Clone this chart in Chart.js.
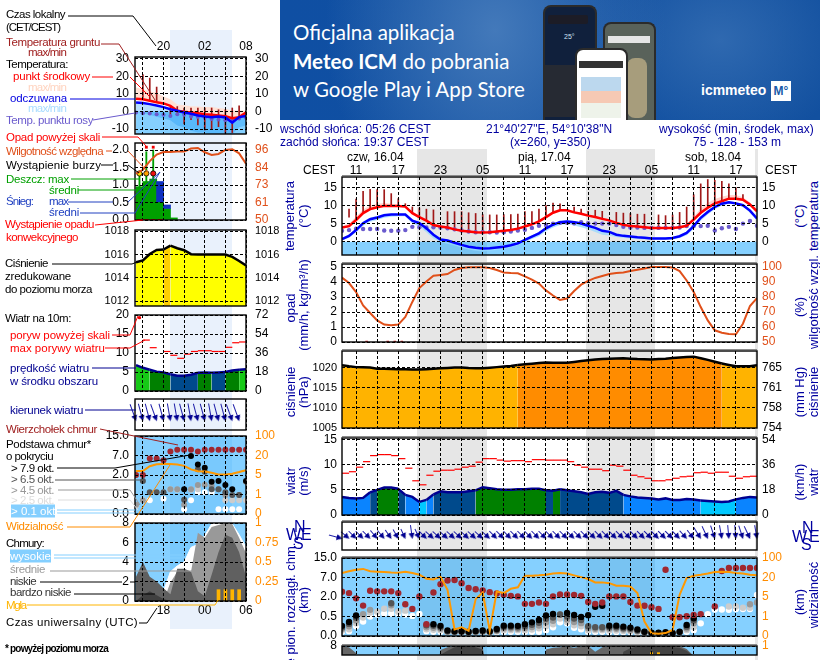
<!DOCTYPE html>
<html lang="pl"><head><meta charset="utf-8"><title>Meteogram ICM</title>
<script src="https://cdn.jsdelivr.net/npm/chart.js@4"></script>
<style>
html,body{margin:0;padding:0;background:#fff;width:820px;height:660px;overflow:hidden;font-family:"Liberation Sans",Arial,sans-serif}
#page{position:relative;width:820px;height:660px;overflow:hidden}
canvas,.abs{position:absolute}
.t{position:absolute;white-space:nowrap;transform:translateY(-50%);font-size:11.5px;line-height:13px}
.h{font-size:12px}
.r{position:absolute;white-space:nowrap;transform:translate(-50%,-50%) rotate(-90deg);font-size:13px;line-height:15px;color:#0000a0}
#banner{left:280px;top:0;width:540px;height:120px;overflow:hidden;background:radial-gradient(ellipse 170px 200px at 215px 30px,#4379ba 0%,rgba(67,121,186,0) 100%),radial-gradient(ellipse 130px 110px at 440px 40px,#2f69b0 0%,rgba(47,105,176,0) 100%),linear-gradient(90deg,#0f4fa3,#12509f)}
#banner .b{position:absolute;left:13px;color:#fff;font-family:Lato,"Open Sans",sans-serif;font-size:20.5px;white-space:nowrap;transform:translateY(-50%)}
.ph{position:absolute;border:2px solid #2b2b2b;border-radius:8px 8px 0 0;border-bottom:0;background:#12233f;box-sizing:border-box;overflow:hidden}
svg{position:absolute;left:0;top:0}
</style></head><body><div id="page">
<div class="abs" style="left:170px;top:30px;width:62px;height:599px;background:#e9f1fc"></div>
<div class="abs" style="left:417px;top:149px;width:70px;height:511px;background:#e6e6e6"></div>
<div class="abs" style="left:586px;top:149px;width:69px;height:511px;background:#e6e6e6"></div>
<div class="abs" style="left:755px;top:149px;width:3px;height:511px;background:#e6e6e6"></div>
<div id="banner" class="abs">
 <div class="b" style="top:32px">Oficjalna aplikacja</div>
 <div class="b" style="top:61px"><b>Meteo ICM</b> do pobrania</div>
 <div class="b" style="top:89px">w Google Play i App Store</div>
 <div class="ph" style="left:263px;top:5px;width:54px;height:115px;background:#10203c;color:#cfe0f5;font-size:7px;padding:26px 0 0 19px">25°
   <div style="position:absolute;left:3px;top:8px;width:40px;height:9px;background:#1c1c26;border-radius:2px"></div>
   <div style="position:absolute;left:0;top:58px;width:50px;height:52px;background:#262a33"></div></div>
 <div class="ph" style="left:323px;top:22px;width:53px;height:98px;background:#59625a"><div style="position:absolute;left:3px;top:12px;width:42px;height:7px;background:#e5e5e5"></div>
   <div style="position:absolute;left:22px;top:34px;width:20px;height:60px;background:#a79d7c;border-radius:8px"></div></div>
 <div class="ph" style="left:295px;top:48px;width:53px;height:72px;background:#fff"><div style="position:absolute;left:2px;top:11px;width:44px;height:7px;background:#333"></div>
   <div style="position:absolute;left:4px;top:27px;width:40px;height:14px;background:#bcd8ee"></div>
   <div style="position:absolute;left:4px;top:41px;width:40px;height:12px;background:#f6c9b4"></div>
   <div style="position:absolute;left:4px;top:53px;width:40px;height:15px;background:#eef3ea"></div></div>
 <div style="position:absolute;left:421px;top:90px;color:#fff;font:bold 14px 'Liberation Sans';transform:translateY(-50%)">icmmeteo</div>
 <div style="position:absolute;left:491px;top:81px;width:20px;height:20px;background:#fff;color:#1a5aa8;font:bold 12px/20px 'Liberation Sans';text-align:center">M°</div>
</div>
<svg id="lead" width="280" height="660"></svg>
<div id="texts"></div>
</div>
<script>
// ---------- main meteogram, hourly from 09:00 on 16.04 (h0) ----------
const mainTickHours=[2,5,8,11,14,17,20,23,26,29,32,35,38,41,44,47,50,53,56];
const mainTickLabels=['11','','17','','23','','05','','11','','17','','23','','05','','11','','17'];
const tempRed=[3.9,4.3,6,7.9,9,9.5,9.9,9.9,9.9,9.7,7.9,6.8,5.8,4.6,4.2,3.9,3.4,3,2.8,2.6,2.5,2.6,2.8,3,3.2,3.6,4.2,4.8,5.6,6.8,8,8.7,8.7,8.1,7.7,7.2,6.8,6.3,5.9,5.2,4.7,4.3,4.2,4,3.8,3.8,3.8,3.8,4,4.4,6.1,8,9.4,10.6,11.2,11.9,11.9,11.6,10.3,8.4];
const tempMax=[4.2,5,6.9,8.9,10,10.5,10.7,10.5,10.3,10,8.4,7.2,6.1,4.9,4.4,4.1,3.6,3.2,3,2.8,2.7,2.8,3,3.2,3.4,3.8,4.4,5,5.9,7.2,8.5,9,9,8.4,8,7.5,7.1,6.6,6.2,5.4,4.9,4.5,4.4,4.2,4,4,4,4,4.2,4.8,6.9,9.2,10.7,11.8,12.4,12.9,12.9,12.3,10.9,8.8];
const tempMin=[3.6,4,5.6,7.4,8.6,9.2,9.6,9.7,9.7,9.5,7.6,6.5,5.4,4.3,3.9,3.7,3.2,2.8,2.6,2.4,2.3,2.4,2.6,2.8,3,3.4,4,4.6,5.3,6.4,7.7,8.4,8.4,7.9,7.4,6.9,6.5,6,5.6,5,4.5,4.1,4,3.8,3.6,3.6,3.6,3.6,3.8,4.1,5.7,7.6,9,10.2,10.9,11.6,11.6,11.2,9.9,8];
const feelsBlue=[.7,1.6,3.2,5.1,6.2,6.7,7.3,7.5,7.5,7.5,5.8,5.1,3.7,1.9,.6,.3,-.3,-.9,-1.4,-1.7,-1.9,-1.8,-1.6,-1.4,-1,-.5,.5,1.4,2.3,3.7,4.7,5.4,5.6,5.4,5,4.4,3.8,3,2.7,1.9,1.6,1.4,1.2,1.1,.9,.9,.9,1,1.5,2.4,4.3,6.6,8.2,9.6,10.5,10.9,10.6,10.1,8.6,6.4];
const feelsMax=[1,1.9,3.6,5.6,6.7,7.1,7.7,7.8,7.8,7.8,6.1,5.5,4.1,2.3,1,.6,0,-.6,-1.1,-1.4,-1.6,-1.5,-1.3,-1.1,-.7,-.2,.8,1.8,2.7,4.1,5.1,5.8,6,5.8,5.4,4.8,4.2,3.4,3.1,2.3,2,1.7,1.5,1.4,1.2,1.2,1.2,1.3,1.8,2.8,4.8,7.1,8.7,10,10.9,11.2,10.9,10.4,9,6.8];
const feelsMin=[.3,1.1,2.6,4.4,5.5,6,6.6,6.9,7,7,5,4.2,2.6,.9,-.2,-.6,-1.1,-1.7,-2.2,-2.5,-2.7,-2.6,-2.3,-2.1,-1.6,-1.1,-.2,.7,1.5,2.9,3.9,4.6,4.9,4.5,4,3.4,2.7,1.9,1.7,1.3,1.1,.9,.7,.6,.5,.5,.5,.6,1,1.8,3.5,5.8,7.5,9,10,10.5,10.2,9.7,8,5.7];
const dewPoint=[3,3.2,3.6,3.5,3.5,3.5,3.1,3,3,3.2,4.1,4,3.9,4,3.9,3.7,3.4,3.1,2.8,2.6,2.6,2.6,2.5,2.6,2.8,3.1,3.3,3.8,4.4,4.6,5,5.2,5.2,5.1,5.4,5.1,5,5,5,4.6,4.1,3.9,3.9,3.8,3.8,3.8,3.8,3.8,3.9,4.3,4.3,4.3,4.4,3.1,3.7,4.1,3.5,5,5.7,4.4];
const groundMax=[null,9,11.8,13.9,14.5,14.4,14.4,13.3,11.9,10.5,9.6,9.3,9,8.8,null,8.3,8.3,8.3,8,7.8,7.5,7.4,7.4,7.5,7.5,7.6,8.3,8.3,9,10,10.7,10.5,null,9.6,9,8.4,8.7,8.4,null,8.1,7.9,7.8,7.6,7.6,null,7.4,7.2,7.4,8.1,9.6,13,16,17.2,17,16.7,16,14.9,13,null,null];
const groundMin=[null,6.8,6,8,9,9.6,10,10,9.9,9.7,7.9,6.8,5.8,4.6,null,3.9,3.4,3,2.8,2.6,2.5,2.6,2.8,3,3.2,3.6,4.2,4.8,5.6,6.8,8,8.7,null,8.1,7.7,7.2,6.8,6.3,null,5.2,4.7,4.3,4.2,4,null,3.8,3.8,3.8,4,4.4,6.1,8,9.4,10.6,11.2,11.9,11.9,11.6,null,null];
const humidity=[92.9,89.3,83.3,74.4,69.3,64.4,61.6,61.1,61.6,66.7,76.7,86,90.4,94.2,94.7,95.3,98,99.3,99.8,99.8,99.8,99.3,98,96.4,96,95.8,93.8,91.6,88.9,84.4,81,78,79,84,88.2,90.7,92.7,94,95.3,96,96.4,97.3,98.2,99,100,100,100,99.6,97.3,91,83.3,73.3,64.4,57.8,56.2,55.3,55.1,62.2,74,79.3];
const convMarkHours=[3,6,7,8];
const mainPressure=[1020.6,1020.3,1020.1,1020.05,1020,1019.7,1019.7,1019.65,1019.6,1019.55,1019.5,1019.5,1019.6,1019.7,1019.8,1019.9,1020,1020,1019.9,1019.85,1019.8,1019.95,1020.1,1020.25,1020.4,1020.6,1020.8,1020.95,1021.1,1021.25,1021.2,1021.2,1021.2,1021.4,1021.6,1021.8,1022,1022.1,1022.2,1022.25,1022.3,1022.2,1022.1,1022.05,1022,1022.1,1022.2,1022.35,1022.5,1022.6,1022.7,1022.3,1021.9,1021.45,1021,1020.65,1020.3,1020.3,1020.3,1020.6];
const mainWind=[3.6,3.4,3.3,3.4,4.5,5,5.45,5.45,5.2,4,3.6,2.6,3,4.1,4.7,4.5,4.5,4.5,4.7,4.9,5.5,5.3,5.1,5,5,5.1,5.1,5.2,5.2,4.9,4.8,5.1,4.9,4.7,4.5,4.2,4.5,4.6,4.4,4.8,4,3.7,3.5,3.4,3.3,3.1,3.3,3,3,3.2,3.1,2.9,2.8,2.7,2.6,2.7,3.1,3.4,3.6,3.5];
const mainWindBand='BBBBNGGGNBBCBNNNNNNGGGGGGGGGGNGNNNNNNNNNBBBBBBBBBBBCCCCCBBBB';
const mainGust=[8.3,8.6,9.5,10.6,11.8,12,12,11.8,11.2,9.3,6.8,6,7.9,8.7,8.9,8.9,9.1,9.5,9.7,10.5,11.2,11.2,10.9,10.7,10.8,10.8,10.6,11,11,10.9,10.9,10.9,10.6,9.9,9.5,9.1,9.1,8.8,9.9,9.7,8.9,7.9,7.6,7.3,6.8,6.8,7,7.3,7.6,7.7,8.4,8.5,8.3,8.5,8.5,7.7,7.3,7.6,7.7];
const mainDir=[285,310,315,315,315,320,320,325,330,335,352,335,315,312,312,312,312,312,312,312,312,312,315,315,315,315,315,315,315,315,315,315,315,315,315,315,315,315,315,315,315,315,315,315,315,315,315,315,315,318,322,328,335,342,350,355,355,342,335,350];
const cloudTop=[2.27,2.2,1.93,1.56,2.32,2.29,2.29,2.29,2.2,1.63,1.39,2.03,.6,2.23,2.66,2.85,2.87,2.71,2.46,2.4,2.34,2.25,2.18,2.11,2.06,2.03,1.65,1.65,1.72,1.65,2.03,2.13,2.13,2.1,2.06,1.74,1.65,1.72,2.03,2.03,2.03,1.74,1.56,1.55,1.48,1.39,3.4,.96,.96,1.01,1.08,1.12,null,1.51,3.33,3.49,3.49,3.49,3.49,3.49];
const baseBlack=[.52,.72,1.05,null,null,null,null,null,null,null,null,null,null,.6,.52,.28,.24,.24,.22,.26,.28,.24,.36,.53,.53,.52,.6,.7,.82,1.05,1.13,null,1.18,1.08,.98,1.07,1.5,1.55,.53,.53,.48,.43,.33,.22,.17,.17,.19,.15,.22,.57,.91,null,null,null,null,null,null,null,null,null];
const baseDark=[.44,.62,.93,null,null,null,null,1.68,null,null,null,null,.55,.52,.45,.24,.22,.22,.2,.23,.25,.22,.31,.46,.46,.45,.5,.58,.68,.88,.95,1.1,1,.9,.82,.5,.45,.45,.45,.45,.4,.37,.28,.2,.16,.16,.17,.15,.2,.48,.8,null,null,null,null,null,null,null,null,null];
const baseGrey=[.36,.5,.8,1.12,1.34,null,null,1.58,null,null,null,null,.45,.42,.37,.22,.21,.21,.19,.21,.22,.21,.27,.38,.38,.37,.4,.46,.54,.7,.78,1.1,.85,.72,.66,.4,.37,.37,.37,.37,.33,.3,.24,.18,.15,.15,.16,.14,.2,.38,.65,null,null,null,null,null,null,null,1.63,1.72];
const baseLight=[.28,.35,.65,.95,1.2,1.25,1.4,1.4,1.25,1.3,null,null,.35,.32,.3,.2,.2,.2,.18,.2,.2,.2,.23,.3,.3,.3,.3,.33,.4,.5,.6,.9,.72,.55,.5,.3,.3,.3,.28,.28,.26,.25,.2,.17,.14,.14,.16,.13,.2,.3,.45,null,null,null,null,1.51,1.51,1.45,1.45,null];
const baseWhite=[.22,.25,.5,.74,1,1.1,1.15,1.15,1.15,1.1,1.03,1.13,.25,.22,.22,.2,.2,.18,.18,.2,.22,.18,.2,.22,.22,.22,.22,.22,.22,.3,.45,.7,.65,.42,.35,.22,.22,.22,.2,.2,.2,.2,.15,.17,.14,.14,.16,.13,.2,.22,.3,.65,1.12,1.36,1.36,1.34,1.38,1.38,1.38,2.1];
const visibility=[3.23,3.32,3.4,3.44,3.32,3.3,3.28,3.26,3.25,3.3,3.23,3.14,2.94,2.9,3.04,2.37,.34,.45,.27,1.89,2.23,.27,2.28,2.2,2.42,2.5,3.09,3.09,3.11,3.14,3.2,3.23,3.2,3.11,3.02,2.92,2.75,2.75,2.71,2.58,2.58,2.54,2.2,.74,.14,.12,.15,.31,2.11,2.97,3.09,3.14,3.2,3.28,3.3,3.28,3.23,3.2,3.14,3.12];
const mainCloudLow=[7.9,7.8,6.8,0,0,0,0,0,0,0,0,0,0,0,7.3,7.8,8,8,8,8,7.9,0,0,0,0,0,0,0,0,7.4,7.7,7.8,7.9,7.7,7.9,8,7,7.8,8,8,8,8,8,8,8,8,8,8,8,7.5,6.3,0,0,0,0,0,0,0,0,0];
const mainCloudVeryLow=[0,0,0,0,0,0,0,0,0,0,0,0,0,0,6.5,7.2,7.8,7.9,7.9,7.8,7.4,0,0,0,0,0,0,0,0,0,0,0,0,0,0,0,0,0,0,0,7,7.6,7.9,7.9,7.9,7.9,7.9,7.8,7.7,7.2,6.2,0,0,0,0,0,0,0,0,0];
const mainFogHours=[44,45];
// ---------- small meteogram, hourly from 16:00 local (h0) ----------
const smallTickHours=[1,4,7,10,13,16];
const smallTopLabels=['','20','','02','','08'];
const smallBottomLabels=['','18','','00','','06'];
const sRed=[7.2,7,6.1,5.3,4.6,3.2,.4,-.2,-.6,-1,-1.5,-1.9,-2.3,-2.7,-3.8,-3.2,-.6];
const sRedMax=[13.7,12.7,11.5,10.5,8.6,7,4,3.5,3,2.8,2.5,2.5,2,1.5,.5,.5,.5];
const sBlue=[5.1,4.8,4.2,3.4,2.5,1.3,.4,-.6,-1.3,-2.3,-2.9,-3.2,-2.9,-3.4,-6.3,-3.2,-2.5];
const sBlueMin=[0,-1,-2,-3,-4,-5,-8,-9,-11,-12,-12,-13,-13,-13,-13,-9,-8];
const sDew=[-.5,-1,-1.2,-1.5,-1.8,-2.5,-1.5,-1.8,-2.8,-3.2,-3.5,-4.2,-4.5,-5,-4.7,-4,-3.5];
const sGroundMax=[null,21,19,13.9,null,2.5,2.8,2,2,2,2,2,1,1,2,3.2,null];
const sGroundMin=[null,8,6.5,5.3,null,-2,-2,-7,-4.7,-7.6,-10.5,-10,-8.6,-12.5,-12,-4.7,null];
const sRain=[.95,1.1,1.17,.52,.33,.06];
const sSnowTop=[null,null,null,1.1,.43,null];
const sRainMax=[1.34,1.95,2,null,null,null];
const sOverScale=[null,2.08,2.08];
const sStorm=[1.33,1.33,1.33];
const sConvHours=[0,1,2,3];
const sHumidity=[80.5,83,88.7,93,94.7,94.7,95,95,97,97.3,94.5,92.7,93.4,96,96.5,93.8,87];
const sPressure=[1015.34,1015.5,1016.05,1016.4,1016.43,1016.77,1016.54,1016.37,1016.03,1016,1016,1016,1016,1016,1015.8,1015.45,1015.06];
const sWind=[6.8,6.1,5.6,5.1,4.9,4.4,4,4,4.3,4.8,4.9,4.8,4.9,5,5.4,5.6,5.7];
const sWindBand='LLGGGNNNNGGNNGGLL';
const sGust=[null,13.4,11.4,null,10.4,9.4,8.6,9.7,10.4,10.6,10.6,10.4,10.4,11.5,12.7,12.9];
const sGustOver=[19.3];
const sDir=[340,345,345,340,345,350,350,345,350,345,345,350,345,345,340,340];
const sTop=[2,2,2.85,2.85,2.76,3.2,3.3,3.3,3.3,3.2,3.3,3.3,3.3,3.3,3.3,3.3,3.3];
const sBlack=[null,null,null,null,null,null,null,1.27,2.97,2.54,2.37,1.66,1.69,1.49,1.27,null,1.69];
const sDark=[null,1.69,1.12,1.12,1.12,null,null,.73,null,2.29,2.17,1.27,1.27,1.12,.98,.98,null];
const sGrey=[.47,.71,null,null,null,1.27,1.27,.47,1.27,1.49,1.5,1.45,1.27,.98,null,.98,1.66];
const sLight=[.42,null,null,null,null,1.27,1.24,null,1.24,1.27,null,null,null,.71,.71,.71,.71];
const sWhite=[null,.71,.71,null,.78,null,null,.25,.71,1.12,1.12,1.12,.25,.25,.25,.25,null];
const sVis=[2.2,2.2,2.45,2.55,2.57,2.57,2.54,2.47,2.29,2.19,2.18,2.12,2.03,2.03,2.06,2.15,2.25];
const sHigh=[0,0,0,0,1,3,3.6,4,5.5,5.8,6.7,7.9,8,8,7.9,6.8,5.5];
const sMid=[0,0,0,0,0,1.9,3,3.3,3,7,6.5,7.6,7.8,8,7.9,6.5,4.9];
const sLow=[2.5,4,2.5,2,1.3,.7,3.3,3.3,3,1,.5,2.7,5,6.8,6.5,5,2.5];
const sVeryLow=[0,.6,1,.6,.2,0,0,0,0,0,0,0,0,0,0,0,0];
const sFog=[null,null,null,null,null,null,null,null,null,null,null,null,.145,.145,.145,.145];

// ---------- tick label tables ----------
const baseTickLabels=['0.0','0.5','2.0','7.0','15.0'];
const visTickLabels=['0','1','5','20','100'];

// ---------- drawing ----------
const SKY='rgba(0,157,255,.48)';
Chart.defaults.font.family='"Liberation Sans",Arial,sans-serif';
Chart.defaults.font.size=12;
Chart.defaults.color='#000';
const framePlugin={id:'frame',
 beforeDatasetsDraw(c,a,o){if(o.sky){const r=c.chartArea;c.ctx.fillStyle=o.sky;c.ctx.fillRect(r.left,r.top,r.width,r.height);}},
 afterDraw(c,a,o){const r=c.chartArea,x=c.ctx;x.save();
  if(o.shade){x.strokeStyle='#8c8c8c';x.lineWidth=1;x.beginPath();x.moveTo(r.left,r.top-1.5);x.lineTo(r.right,r.top-1.5);x.stroke();}
  x.strokeStyle='#000';x.lineWidth=1.4;x.strokeRect(r.left,r.top,r.width,r.height);x.restore();}
};
Chart.register(framePlugin);
const pts=(a,off)=>a.map((v,i)=>({x:i+(off||0),y:v}));
const hourPts=(hours,val,off)=>hours.map(h=>({x:h+(off||0),y:val}));
const line=(a,c,w,e)=>Object.assign({type:'line',data:pts(a),borderColor:c,borderWidth:w,pointRadius:0,fill:false,tension:0},e||{});
const band=(a,c)=>line(a,'transparent',0,{fill:'+1',backgroundColor:c});
const dots=(a,c,r,off,e)=>Object.assign({type:'scatter',data:pts(a,off),backgroundColor:c,borderColor:c,pointRadius:r,borderWidth:0,pointStyle:'circle'},e||{});
const vbars=(lo,hi,c,th,off)=>({type:'bar',data:hi.map((v,i)=>({x:i+(off||0),y:(v==null||lo[i]==null)?null:[lo[i],v]})),backgroundColor:c,barThickness:th,grouped:false,borderWidth:0});
function arrowImg(L){const s=2*L+1,k=document.createElement('canvas');k.width=s;k.height=s;const x=k.getContext('2d');
 x.strokeStyle='#1c1ca8';x.lineWidth=1;x.beginPath();x.moveTo(L+.5,0);x.lineTo(L+.5,L);x.stroke();
 x.fillStyle='#000090';x.beginPath();x.moveTo(L+.5,L+1);x.lineTo(L-2.5,L-5);x.lineTo(L+3.5,L-5);x.closePath();x.fill();return k;}
function yAxis(pos,min,max,vals,labels,color,pad,width,grid,size){return{type:'linear',position:pos,min,max,
 afterBuildTicks:s=>{s.ticks=vals.map(v=>({value:v}));},
 afterFit:s=>{s.width=width;s.paddingTop=0;s.paddingBottom=0;},
 grid:{display:grid,drawTicks:false,color:'#000',lineWidth:1,z:1},border:{display:false,dash:[3,2]},
 ticks:{autoSkip:false,padding:pad,color,font:{size:size||12},callback:(v,i)=>labels[i]}};}
function xAxis(pos,min,max,vals,labels,size,pad){return{type:'linear',position:pos,min,max,offset:false,
 afterBuildTicks:s=>{s.ticks=vals.map(v=>({value:v}));},
 afterFit:s=>{s.height=size;s.paddingLeft=0;s.paddingRight=0;},
 grid:{offset:false,drawTicks:false,color:'#000',lineWidth:1,z:1},border:{display:false,dash:[3,2]},
 ticks:{autoSkip:false,maxRotation:0,padding:pad||0,display:!!labels,callback:(v,i)=>labels?labels[i]:''}};}
function panel(b,datasets,scales,o){
 const c=document.createElement('canvas');const W=b.r-b.l+b.ml+b.mr,H=b.b-b.t+b.mt+b.mb;
 c.width=W;c.height=H;c.style.cssText=`left:${b.l-b.ml}px;top:${b.t-b.mt}px;width:${W}px;height:${H}px`;
 document.getElementById('page').insertBefore(c,document.getElementById('lead'));
 const n=datasets.length;datasets.forEach((d,i)=>{d.order=n-i;});
 new Chart(c,{data:{datasets},options:{responsive:false,animation:false,devicePixelRatio:1,
  layout:{padding:{top:b.xBottom?b.mt:0,bottom:b.xBottom?0:b.mb,left:0,right:0}},
  plugins:{legend:{display:false},tooltip:{enabled:false},frame:o||{}},scales}});
}
const M={l:342,r:757,ml:50,mr:32,mt:9,mb:8};
const Mx=(lab,size,pad)=>xAxis('top',0,59,mainTickHours,lab,size,pad);
const B=(t,b,extra)=>Object.assign({},M,{t,b},extra||{});
const MY=(min,max,vals,labs,col,sz)=>yAxis('left',min,max,vals,labs,col||'#000',5,M.ml,true,sz);
const MY2=(min,max,vals,labs,col,sz)=>yAxis('right',min,max,vals,labs,col||'#000',5,M.mr,false,sz);
const BaseDots=(top,bk,dk,gr,li,wh,r)=>[dots(wh,'#fff',r),dots(li,'#ccc',r),dots(gr,'#999',r),dots(dk,'#555',r),dots(bk,'#000',r),dots(top,'#a02830',r)];

// main temperature
panel(B(177,255,{mt:18}),[
 line(tempRed.map(()=>0),'transparent',0,{fill:'start',backgroundColor:SKY}),
 band(tempMax,'#ffd6d0'),line(tempMin,'transparent',0),
 band(feelsMax,'rgba(150,215,255,.75)'),line(feelsMin,'transparent',0),
 vbars(groundMin,groundMax,'#a01818',1),
 dots(dewPoint,'#6a5acd',2.2),
 line(tempRed,'#ff0000',2.5),line(feelsBlue,'#0000ff',2.5)
],{x:Mx(mainTickLabels,18,-1),y:MY(-3.7,17.9,[0,5,10,15],['0','5','10','15']),y2:MY2(-3.7,17.9,[0,5,10,15],['0','5','10','15'])},{shade:1});
// main rain + humidity
panel(B(264,342),[
 {type:'scatter',data:hourPts(convMarkHours,0,.5),backgroundColor:'#e03030',pointStyle:'rect',pointRadius:1.8,borderWidth:0},
 line(humidity,'#e0501a',2,{yAxisID:'y2'})
],{x:Mx(null,9),y:MY(0,5.2,[0,1,2,3,4,5],['0','1','2','3','4','5']),y2:MY2(50,102,[50,60,70,80,90,100],['50','60','70','80','90','100'],'#e0501a')},{shade:1});
// main pressure
panel(B(351,428),[
 line(mainPressure,'#000',2.5,{fill:'start',backgroundColor:'#ffb000',segment:{backgroundColor:c=>(c.p0DataIndex>=25&&c.p0DataIndex<54)?'#ff8c00':'#ffb300'}})
],{x:Mx(null,9),y:MY(1005,1024.1,[1005,1010,1015,1020],['1005','1010','1015','1020'],'#000',11),y2:MY2(1005,1024.1,[1005,1010,1015,1020],['754','758','761','765'])},{shade:1});
// main wind
const windColor={B:'#0a84ff',C:'#00c8ff',N:'#004a8c',G:'#008000',L:'#16c916'};
panel(B(438,515),[
 line(mainWind,'#000090',2.5,{fill:'origin',backgroundColor:'#004a8c',segment:{backgroundColor:c=>windColor[mainWindBand[c.p0DataIndex]]}}),
 dots(mainGust,'#ff0000',3.6,.5,{pointStyle:'line',borderColor:'#ff0000',borderWidth:1.2})
],{x:Mx(null,9),y:MY(0,15.3,[0,5,10,15],['0','5','10','15']),y2:MY2(0,15.3,[0,5,10,15],['0','18','36','54'])},{shade:1});
// main wind direction
const shortArrow=arrowImg(10),longArrow=arrowImg(13);
panel(B(522,551,{mb:4}),[
 {type:'scatter',clip:false,data:mainDir.map((d,i)=>({x:i,y:.41})),pointStyle:c=>(c.dataIndex===0||c.dataIndex===10||c.dataIndex>=51)?longArrow:shortArrow,pointRadius:2,pointRotation:c=>mainDir[c.dataIndex]}
],{x:Mx(null,9),y:yAxis('left',0,1,[],[],'#000',5,M.ml,false),y2:yAxis('right',0,1,[],[],'#000',5,M.mr,false)},{shade:1});
// main cloud base
panel(B(558,636,{mb:8}),[
 ...BaseDots(cloudTop,baseBlack,baseDark,baseGrey,baseLight,baseWhite,3.2),
 line(visibility,'#ff9800',2)
],{x:Mx(null,9),y:MY(0,4,[0,1,2,3,4],baseTickLabels),y2:MY2(0,4,[0,1,2,3,4],visTickLabels,'#ff8c00')},{sky:SKY,shade:1});
// main clouds (cut by the page edge)
panel(B(646,661,{mb:0}),[
 line(mainCloudLow,'transparent',0,{fill:'start',backgroundColor:'#666'}),
 line(mainCloudVeryLow,'transparent',0,{fill:'start',backgroundColor:'#444'}),
 {type:'scatter',data:hourPts(mainFogHours,6.75),pointStyle:'line',pointRadius:1.5,borderColor:'#ffb400',borderWidth:2}
],{x:Mx(null,9),y:MY(6.46,8,[8],['8']),y2:MY2(6.46,8,[8],['1'],'#ff8c00')},{sky:SKY,shade:1});

// small panels
const S={l:135,r:246,ml:40,mr:36,mt:8,mb:8};
const SB=(t,b,extra)=>Object.assign({},S,{t,b},extra||{});
const Sx=(lab,size,pos,pad)=>xAxis(pos||'top',-.15,16,smallTickHours,lab,size,pad);
const SY=(min,max,vals,labs,sz)=>yAxis('left',min,max,vals,labs,'#000',6,S.ml,true,sz);
const SY2=(min,max,vals,labs,col,sz)=>yAxis('right',min,max,vals,labs,col||'#000',9,S.mr,false,sz);
panel(SB(57,134,{mt:18}),[
 line(sRed.map(()=>0),'transparent',0,{fill:'start',backgroundColor:SKY}),
 band(sRedMax,'#ffe0d4'),line(sRed,'transparent',0),
 band(sBlue,'rgba(0,140,245,.28)'),line(sBlueMin,'transparent',0),
 vbars(sGroundMin,sGroundMax,'#a01818',1),
 dots(sDew,'#6a5acd',2),
 line(sRed,'#ff0000',2.5),line(sBlue,'#0000ff',2.5)
],{x:Sx(smallTopLabels,18,'top',3),y:SY(-12.8,31,[-10,0,10,20,30],['-10','0','10','20','30']),y2:SY2(-12.8,31,[-10,0,10,20,30],['-10','0','10','20','30'])});
panel(SB(143,220),[
 vbars(sRain.map(()=>0),sRain,'#00a000',7.1,.5),
 vbars(sRain,sSnowTop,'#1030c0',7.1,.5),
 vbars(sRain,sRainMax,'#00a000',1.2,.5),
 {type:'scatter',data:pts(sOverScale,.5),pointStyle:'rect',pointRadius:2,backgroundColor:'#f00000',borderWidth:0},
 {type:'scatter',data:pts(sStorm,.5),pointRadius:2.6,backgroundColor:['#ffe000','#ffa000','#f01010'],borderColor:'#000',borderWidth:.8},
 {type:'scatter',data:hourPts(sConvHours,.01,.5),pointStyle:'line',pointRadius:2.5,borderColor:'#f00000',borderWidth:1.3},
 line(sHumidity,'#e0501a',2,{yAxisID:'y2'})
],{x:Sx(null,8),y:SY(0,2.2,[0,.5,1,1.5,2],['0.0','0.5','1.0','1.5','2.0']),y2:SY2(50,100.6,[50,61.5,73,84.5,96],['50','61','73','84','96'],'#e0501a')});
panel(SB(230,306),[
 line(sPressure,'#000',2.5,{fill:'start',backgroundColor:'#ffff00',segment:{backgroundColor:c=>c.p0DataIndex===4?'#ffd000':'#ffff00'}})
],{x:Sx(null,8),y:SY(1011.6,1018.1,[1012,1014,1016,1018],['1012','1014','1016','1018'],11),y2:SY2(1011.6,1018.1,[1012,1014,1016,1018],['1012','1014','1016','1018'],'#000',11)});
panel(SB(315,391),[
 line(sWind,'#000090',2.5,{fill:'origin',backgroundColor:'#008000',segment:{backgroundColor:c=>windColor[sWindBand[c.p0DataIndex]]}}),
 dots(sGust,'#ff0000',3.5,.5,{pointStyle:'line',borderColor:'#ff0000',borderWidth:1.2}),
 {type:'scatter',data:pts(sGustOver,.5),pointRadius:1.7,backgroundColor:'#f00000',borderWidth:0}
],{x:Sx(null,8),y:SY(0,20,[0,5,10,15,20],['0','5','10','15','20']),y2:SY2(0,20,[0,5,10,15,20],['0','18','36','54','72'])});
panel(SB(399,430),[
 {type:'scatter',clip:false,data:sDir.map((d,i)=>({x:i,y:.3})),pointStyle:arrowImg(17),pointRadius:2,pointRotation:c=>sDir[c.dataIndex]}
],{x:Sx(null,8),y:yAxis('left',0,1,[],[],'#000',5,S.ml,false),y2:yAxis('right',0,1,[],[],'#000',5,S.mr,false)});
panel(SB(436,514),[
 ...BaseDots(sTop,sBlack,sDark,sGrey,sLight,sWhite,3),
 line(sVis,'#ff9800',2)
],{x:Sx(null,8),y:SY(0,4,[0,1,2,3,4],baseTickLabels),y2:SY2(0,4,[0,1,2,3,4],visTickLabels,'#ff8c00')},{sky:SKY});
panel(SB(523,601,{xBottom:1,mb:18}),[
 line(sHigh,'#fff',1,{fill:'start',backgroundColor:'#fff'}),
 line(sMid,'transparent',0,{fill:'start',backgroundColor:'#999'}),
 line(sLow,'transparent',0,{fill:'start',backgroundColor:'#606060'}),
 line(sVeryLow,'transparent',0,{fill:'start',backgroundColor:'#404040'}),
 Object.assign(vbars(sFog.map(()=>0),sFog,'#ffb400',3,0),{yAxisID:'y2'})
],{x:Sx(smallBottomLabels,18,'bottom',2),y:SY(0,8,[0,2,4,6,8],['0','2','4','6','8']),y2:SY2(0,1,[0,.25,.5,.75,1],['0','0.25','0.5','0.75','1'],'#ff8c00')},{sky:SKY});

// ---------- text labels: text, x, y, colour, width in the picture ----------
const NAVY='#0000a0';
const texts=[
 ['Czas lokalny',6,14,'#000',59],['(CET/CEST)',6,27,'#000',54],['Temperatura gruntu',6,42,'#a02020',94],['max/min',28,52,'#a02020',38],
 ['Temperatura:',6,64,'#000',62],['punkt środkowy',13,76,'#ff0000',77],['max/min',28,87,'#ffd4c0',38],['odczuwana',10,98,'#0000e0',57],
 ['max/min',28,108,'#a8dcff',38],['Temp. punktu rosy',6,120,'#6a5acd',87],['Opad powyżej skali',6,137,'#ff0000',94],['Wilgotność względna',6,151,'#e0501a',97],
 ['Wystąpienie burzy',6,165,'#000',95],['Deszcz: max',6,179,'#00a000',63],['średni',49,190,'#00a000',30],['Śnieg:',6,201,'#2040c0',27],['max',49,201,'#2040c0',19],['średni',49,212,'#2040c0',30],
 ['Wystąpienie opadu',5,224,'#ff0000',89],['konwekcyjnego',6,237,'#ff0000',72],['Ciśnienie',5,263,'#000',43],['zredukowane',5,276,'#000',66],['do poziomu morza',5,289,'#000',87],
 ['Wiatr na 10m:',5,318,'#000',66],['poryw powyżej skali',10,335,'#ff0000',100],['max porywy wiatru',10,348,'#ff0000',95],['prędkość wiatru',10,368,'#000090',79],['w środku obszaru',10,381,'#000090',88],
 ['kierunek wiatru',10,410,'#000090',73],['Wierzchołek chmur',6,429,'#a02020',91],['Podstawa chmur*',6,444,'#000',85],['o pokryciu',6,456,'#000',47],
 ['> 7.9 okt.',11,468,'#000',43],['> 6.5 okt.',11,479,'#555',43],['> 4.5 okt.',11,490,'#999',43],['> 2.5 okt.',11,500,'#ddd',43],['Widzialność',6,526,'#ff8c00',57],
 ['Chmury:',6,543,'#000',38],['średnie',10,569,'#999',35],['niskie',10,581,'#333',26],['bardzo niskie',10,592,'#333',61],['Mgła',6,605,'#ffb400',20],['Czas uniwersalny (UTC)',6,622,'#000',132]
];
const headerTexts=[
 ['wschód słońca: 05:26 CEST',280,129,NAVY],['zachód słońca: 19:37 CEST',280,142,NAVY],['21°40\'27"E, 54°10\'38"N',486,129,NAVY],['(x=260, y=350)',510,142,NAVY],
 ['wysokość (min, środek, max)',659,129,NAVY],['75 - 128 - 153 m',693,142,NAVY],
 ['czw, 16.04',347,157,'#000'],['pią, 17.04',518,157,'#000'],['sob, 18.04',685,157,'#000'],['CEST',303,170,'#000'],['CEST',765,170,'#000']
];
const box=document.getElementById('texts');
function fit(d,w){const m=d.getBoundingClientRect().width;d.style.letterSpacing=((w-m)/d.textContent.length).toFixed(3)+'px';}
texts.forEach(t=>{const d=document.createElement('div');d.className='t';d.textContent=t[0];d.style.cssText=`left:${t[1]}px;top:${t[2]}px;color:${t[3]}`;box.appendChild(d);fit(d,t[4]);});
headerTexts.forEach(t=>{const d=document.createElement('div');d.className='t h';d.textContent=t[0];d.style.cssText=`left:${t[1]}px;top:${t[2]}px;color:${t[3]}`;box.appendChild(d);});
[['> 0.1 okt.',11,511,44],['wysokie',10,556,41]].forEach(t=>{const d=document.createElement('div');d.className='t';d.textContent=t[0];d.style.cssText=`left:${t[1]}px;top:${t[2]}px;color:#fff;background:#84cfff;width:${t[3]}px`;box.appendChild(d);});
const fn=document.createElement('div');fn.className='t';fn.textContent='* powyżej poziomu morza';fn.style.cssText='left:5px;top:648px;font-size:10px;font-weight:bold;color:#000';box.appendChild(fn);fit(fn,103);
const rot=[['temperatura',289,216],['(°C)',303,216],['opad',290,308],['(mm/h, kg/m³/h)',303,305],['ciśnienie',290,392],['(hPa)',303,392],['wiatr',290,481],['(m/s)',303,481],['e pion. rozciągł. chm.',290,604],['(km)',303,600],
 ['(°C)',799,216],['temperatura',813,216],['(%)',799,307],['wilgotność wzgl.',813,302],['(mm Hg)',799,392],['ciśnienie',813,392],['(km/h)',799,482],['wiatr',813,482],['(km)',799,602],['widzialność',813,595]];
rot.forEach(t=>{const d=document.createElement('div');d.className='r';d.textContent=t[0];d.style.cssText=`left:${t[1]}px;top:${t[2]}px`;box.appendChild(d);});
[['W',292,534],['N',300,526],['E',307,534],['S',299,543],['W',798,536],['N',808,527],['E',815,536],['S',807,544]].forEach(t=>{const d=document.createElement('div');d.className='t';d.textContent=t[0];d.style.cssText=`left:${t[1]-6}px;top:${t[2]}px;color:${NAVY};font-size:16px`;box.appendChild(d);});

// ---------- leader lines of the legend ----------
const leaders=[
 ['#000','68,16 133,16 156,46'],['#a02020','101,44 119,44 155,100'],['#f00','92,77 113,77'],['#f00','130,77 150,97'],['#0000e0','70,99 135,99'],['#6a5acd','93,120 135,113'],
 ['#f00','102,137 138,137 146,146'],['#e0501a','106,151 112,151'],['#e0501a','128,151 148,172'],['#000','101,165 113,165'],['#000','128,165 139,173'],['#00a000','71,179 139,179'],
 ['#00a000','78,190 145,190'],['#2040c0','68,202 113,202'],['#2040c0','128,202 160,172'],['#2040c0','80,213 135,213 160,172'],['#f00','95,225 143,220'],['#000','52,264 132,264 137,262'],
 ['#f00','112,335 130,335 138,316'],['#f00','105,348 130,348 145,340'],['#000090','92,368 136,368'],['#000090','85,410 136,410'],['#a02020','100,429 178,445'],['#000','57,468 115,468 190,455'],
 ['#555','55,480 143,480'],['#999','58,490 130,490 140,505'],['#ddd','58,500 130,500 138,510'],['#84cfff','57,510 135,510'],['#84cfff','57,513 135,513'],['#ff8c00','67,527 130,527 170,465'],
 ['#84cfff','54,555 185,555'],['#84cfff','54,558 185,558'],['#999','50,571 195,571'],['#000','40,582 122,582'],['#000','130,582 135,582'],['#000','74,594 155,594'],['#ffb400','27,605 215,605 218,600'],['#000','139,623 147,623 157,608']
];
const svg=document.getElementById('lead');
leaders.forEach(l=>{const p=document.createElementNS('http://www.w3.org/2000/svg','polyline');p.setAttribute('points',l[1]);p.setAttribute('fill','none');p.setAttribute('stroke',l[0]);p.setAttribute('stroke-width','1');svg.appendChild(p);});
</script></body></html>
